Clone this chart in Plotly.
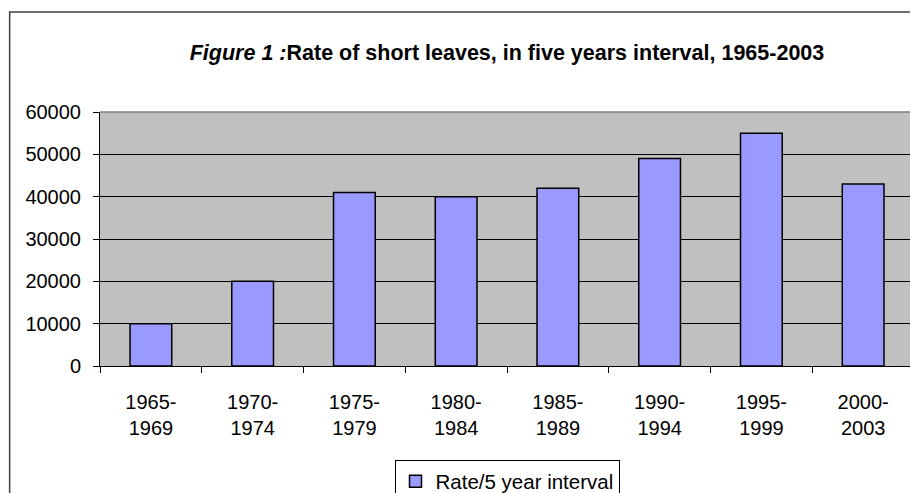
import plotly.graph_objects as go

periods = ["1965-<br>1969", "1970-<br>1974", "1975-<br>1979", "1980-<br>1984",
           "1985-<br>1989", "1990-<br>1994", "1995-<br>1999", "2000-<br>2003"]
rates = [10000, 20000, 41000, 40000, 42000, 49000, 55000, 43000]
y_ticks = [0, 10000, 20000, 30000, 40000, 50000, 60000]

FONT = "Liberation Sans, Arial, sans-serif"

fig = go.Figure()
fig.add_trace(go.Bar(
    x=periods, y=rates, name="Rate/5 year interval",
    marker=dict(color="#9999FF", line=dict(color="black", width=1.5)),
    width=0.41,
))

# page body has an 8px margin, so the figure is drawn 8px smaller
fig.update_layout(
    width=910, height=485,
    margin=dict(l=92, r=4, t=104, b=127, autoexpand=False),
    paper_bgcolor="white",
    plot_bgcolor="#C0C0C0",
    font=dict(family=FONT, size=20, color="black"),
    title=dict(
        text="<i>Figure 1 :</i>Rate of short leaves, in five years interval, 1965-2003",
        font=dict(family=FONT, size=21.5, color="black", weight="bold"),
        x=0.5, xref="paper", xanchor="center", y=0.909, yanchor="middle",
    ),
    showlegend=True,
    legend=dict(
        x=0.5, xanchor="center", y=-0.372, yanchor="top",
        bordercolor="black", borderwidth=1, bgcolor="white",
        font=dict(family=FONT, size=20.5),
        itemwidth=30,
    ),
    bargap=0.59,
)

fig.update_xaxes(
    type="category", tickson="boundaries", automargin=False,
    ticks="outside", ticklen=6, tickcolor="black",
    showline=True, linecolor="black", linewidth=1,
    showgrid=False, ticklabelstandoff=18,
)
fig.update_yaxes(
    range=[0, 60000], tickvals=y_ticks, tickformat="d", automargin=False,
    ticks="outside", ticklen=6, tickcolor="black",
    showline=True, linecolor="black", linewidth=1,
    showgrid=True, gridcolor="black", gridwidth=1,
    zeroline=False, ticklabelstandoff=8,
)

# grey top/right border of the plot area
fig.add_shape(type="line", xref="paper", yref="paper", x0=0, x1=1, y0=1, y1=1,
              line=dict(color="#808080", width=1.5), layer="above")
fig.add_shape(type="line", xref="paper", yref="paper", x0=1, x1=1, y0=0, y1=1,
              line=dict(color="#808080", width=1.5), layer="above")
# outer chart frame
fig.add_shape(type="rect", xref="paper", yref="paper",
              x0=-0.111, x1=1.05, y0=-0.6, y1=1.394,
              line=dict(color="#404040", width=1.5), layer="above")

fig.write_html("out.html")
